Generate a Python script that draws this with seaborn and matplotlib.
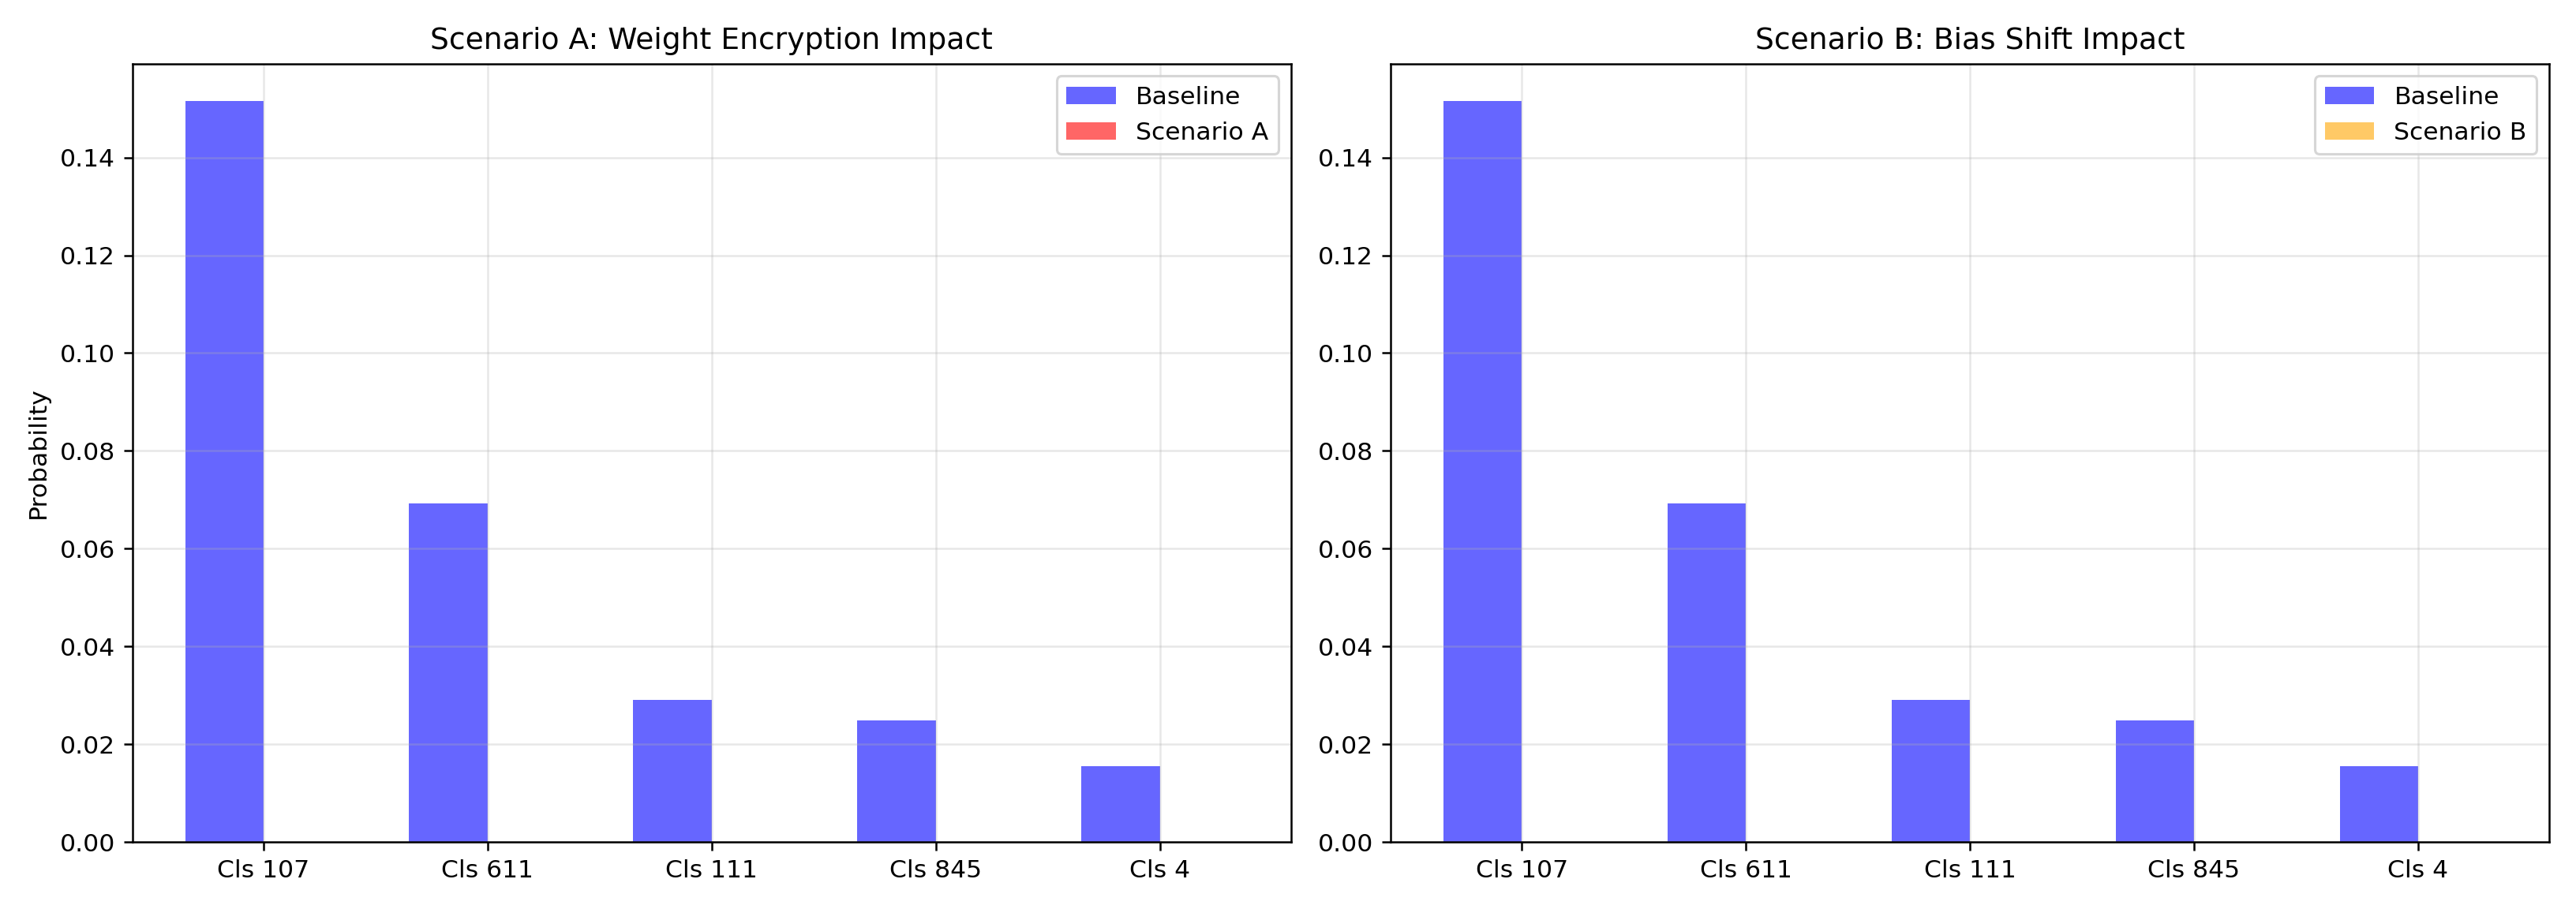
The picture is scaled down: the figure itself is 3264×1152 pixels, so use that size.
import matplotlib
matplotlib.use("Agg")
import matplotlib.pyplot as plt
import pandas as pd
import seaborn as sns

classes = ["Cls 107", "Cls 611", "Cls 111", "Cls 845", "Cls 4"]
baseline = [0.1516, 0.0693, 0.0290, 0.0249, 0.0155]
scenario_a = [0.0, 0.0, 0.0, 0.0, 0.0]
scenario_b = [0.0, 0.0, 0.0, 0.0, 0.0]


def make_frame(other, other_name):
    rows = []
    for c, b, o in zip(classes, baseline, other):
        rows.append({"cls": c, "prob": b, "series": "Baseline"})
        rows.append({"cls": c, "prob": o, "series": other_name})
    return pd.DataFrame(rows)


DPI = 226
fig, axes = plt.subplots(1, 2, figsize=(3264 / DPI, 1152 / DPI), dpi=DPI)

panels = [
    (scenario_a, "Scenario A", "red", "Scenario A: Weight Encryption Impact"),
    (scenario_b, "Scenario B", "orange", "Scenario B: Bias Shift Impact"),
]

for ax, (vals, name, col, title) in zip(axes, panels):
    df = make_frame(vals, name)
    sns.barplot(data=df, x="cls", y="prob", hue="series", order=classes,
                palette={"Baseline": "blue", name: col}, alpha=0.6,
                saturation=1, width=0.7, ax=ax, errorbar=None)
    # matplotlib-style 5% x margins around the bars instead of seaborn's fixed limits
    lo = min(p.get_x() for p in ax.patches)
    hi = max(p.get_x() + p.get_width() for p in ax.patches)
    pad = 0.05 * (hi - lo)
    ax.set_xlim(lo - pad, hi + pad)
    ax.set_title(title)
    ax.set_xlabel("")
    ax.set_ylabel("")
    ax.grid(True, alpha=0.3)
    ax.legend(loc="upper right")

axes[0].set_ylabel("Probability")

fig.tight_layout()
fig.savefig("out.png", dpi=DPI)
plt.close(fig)
